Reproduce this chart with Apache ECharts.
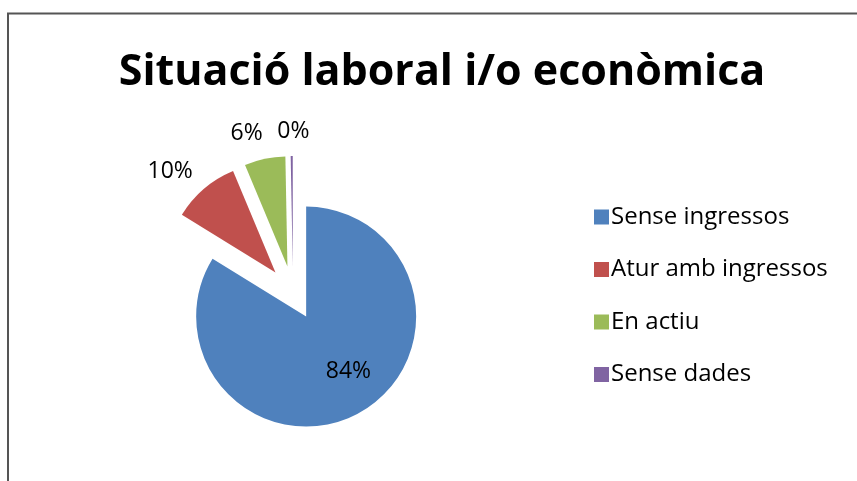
<!DOCTYPE html>
<html>
<head>
<meta charset="utf-8">
<script src="https://cdn.jsdelivr.net/npm/echarts@6/dist/echarts.min.js"></script>
<style>
  html, body { margin: 0; padding: 0; background: #fff; }
  #main { width: 857px; height: 481px; }
</style>
</head>
<body>
<div id="main"></div>
<script>
// dades del gràfic
var categories = ["Sense ingressos", "Atur amb ingressos", "En actiu", "Sense dades"];
var values = [83.8, 9.9, 6.0, 0.3];
var colors = ["#4f81bd", "#c0504d", "#9bbb59", "#8064a2"];

var chart = echarts.init(document.getElementById("main"));

var pieData = categories.map(function (name, i) {
  return {
    name: name,
    value: values[i],
    selected: true,
    itemStyle: { color: colors[i] },
    label: i === 0
      ? { position: "inside" }
      : { position: "outside" }
  };
});

// petits ajustos de posició de les etiquetes (estil Excel)
var labelNudge = { 0: [14, 4], 1: [5, 2], 2: [3, -1], 3: [18, 0] };

chart.setOption({
  animation: false,
  title: {
    text: "Situació laboral i/o econòmica",
    left: 437,
    top: 46,
    textAlign: "center",
    textStyle: { fontFamily: "Open Sans", fontWeight: "bold", fontSize: 43, color: "#000" }
  },
  legend: {
    orient: "vertical",
    left: 589,
    top: 200,
    itemWidth: 15,
    itemHeight: 15,
    itemGap: 28.5,
    icon: "rect",
    textStyle: { fontFamily: "Open Sans", fontSize: 24, color: "#000", padding: [0, 0, 0, -3] },
    data: categories
  },
  graphic: [{
    type: "polyline",
    shape: { points: [[8, 482], [8, 13.5], [858, 13.5]] },
    style: { stroke: "#555", lineWidth: 2, fill: null }
  }],
  series: [{
    type: "pie",
    center: [293, 293],
    radius: [0, 110],
    startAngle: 90,
    clockwise: true,
    selectedMode: "multiple",
    selectedOffset: 27,
    avoidLabelOverlap: false,
    emphasis: { disabled: true },
    label: {
      formatter: function (p) { return Math.round(p.value) + "%"; },
      fontFamily: "Open Sans",
      fontSize: 23,
      color: "#000",
      distanceToLabelLine: 0
    },
    labelLine: { show: false, length: 25, length2: 0 },
    labelLayout: function (params) {
      var n = labelNudge[params.dataIndex] || [0, 0];
      return { dx: n[0], dy: n[1] };
    },
    data: pieData
  }]
});
</script>
</body>
</html>
